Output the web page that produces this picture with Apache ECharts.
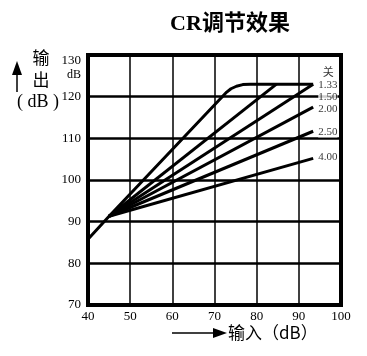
<!DOCTYPE html>
<html><head><meta charset="utf-8">
<script src="https://cdn.jsdelivr.net/npm/echarts@6/dist/echarts.min.js"></script>
<style>html,body{margin:0;padding:0;background:#fff}#c{width:367px;height:356px}</style>
</head><body><div id="c"></div>
<script>
// ---- data (input dB -> output dB) ----
const xTicks = [40, 50, 60, 70, 80, 90, 100];
const yTicks = [70, 80, 90, 100, 110, 120, 130];
const offIn   = [40, 45, 72.9, 73.9, 75.2, 76.7, 78.5, 93.4];
const offOut  = [85.8, 91.3, 121.1, 121.9, 122.5, 122.9, 123, 123];
const cr133In = [45, 84.7];   const cr133Out = [91.3, 123];
const cr150In = [45, 93.4];   const cr150Out = [91.3, 123];
const cr200In = [45, 93.4];   const cr200Out = [91.3, 117.5];
const cr250In = [45, 93.4];   const cr250Out = [91.3, 111.7];
const cr400In = [45, 93.4];   const cr400Out = [91.3, 105.2];
const curveLabels = ['关', '1.33', '1.50', '2.00', '2.50', '4.00'];
const labelIn  = [95.7, 94.6, 94.6, 94.6, 94.6, 94.6];
const labelOut = [125.7, 122.8, 119.8, 116.9, 111.4, 105.4];
const title = 'CR调节效果';
const yName = ['输', '出', '( dB )'];
const xName = '输入（dB）';

const serif = '"Liberation Serif","Noto Sans CJK SC",serif';
const zip = (a, b) => a.map((v, i) => [v, b[i]]);
const lineSeries = (ins, outs) => ({
  type: 'line', data: zip(ins, outs), showSymbol: false, symbol: 'none',
  lineStyle: { color: '#000', width: 3 }, silent: true, z: 3
});

const chart = echarts.init(document.getElementById('c'));
chart.setOption({
  backgroundColor: '#fff',
  animation: false,
  title: {
    text: title, left: 225, top: 8, textAlign: 'center',
    textStyle: { fontFamily: serif, fontWeight: 'bold', fontSize: 22, color: '#000' }
  },
  grid: { left: 88, right: 26, top: 55, bottom: 51, show: true,
          borderColor: '#000', borderWidth: 4, backgroundColor: 'transparent' },
  xAxis: {
    type: 'value', min: xTicks[0], max: xTicks[xTicks.length - 1], interval: 10,
    axisLine: { show: false }, axisTick: { show: false },
    splitLine: { show: true, lineStyle: { color: '#000', width: 1.5 } },
    axisLabel: { color: '#000', fontFamily: serif, fontSize: 13, margin: 5 }
  },
  yAxis: {
    type: 'value', min: yTicks[0], max: yTicks[yTicks.length - 1], interval: 10,
    axisLine: { show: false }, axisTick: { show: false },
    splitLine: { show: true, lineStyle: { color: '#000', width: 2.5 } },
    axisLabel: {
      color: '#000', fontFamily: serif, fontSize: 13, margin: 7,
      formatter: v => v === yTicks[yTicks.length - 1] ? '{s| }\n{t|' + v + '}\n{u|dB}' : String(v),
      rich: {
        s: { lineHeight: 26, fontSize: 13 },
        t: { lineHeight: 14, fontSize: 13, fontFamily: serif, color: '#000' },
        u: { lineHeight: 14, fontSize: 12, fontFamily: serif, color: '#000' }
      }
    }
  },
  series: [
    lineSeries(offIn, offOut),
    lineSeries(cr133In, cr133Out),
    lineSeries(cr150In, cr150Out),
    lineSeries(cr200In, cr200Out),
    lineSeries(cr250In, cr250Out),
    lineSeries(cr400In, cr400Out),
    {
      type: 'scatter', symbolSize: 0, silent: true, z: 5,
      data: curveLabels.map((t, i) => ({ value: [labelIn[i], labelOut[i]], name: t })),
      label: { show: true, position: 'right', distance: 0, formatter: p => p.name,
               color: '#000', fontFamily: serif, fontSize: 11,
               backgroundColor: '#fff', padding: [0, 0, -1, 0] }
    }
  ],
  graphic: [
    { type: 'polygon', shape: { points: [[17, 61], [12, 75], [22, 75]] }, style: { fill: '#000' } },
    { type: 'line', shape: { x1: 17, y1: 74, x2: 17, y2: 92 }, style: { stroke: '#000', lineWidth: 1.5 } },
    { type: 'text', x: 41, y: 58, style: { text: yName[0], font: '17px "Noto Sans CJK SC"', fill: '#000', align: 'center', verticalAlign: 'middle' } },
    { type: 'text', x: 41, y: 80, style: { text: yName[1], font: '17px "Noto Sans CJK SC"', fill: '#000', align: 'center', verticalAlign: 'middle' } },
    { type: 'text', x: 38, y: 102, style: { text: yName[2], font: '18px "Liberation Serif"', fill: '#000', align: 'center', verticalAlign: 'middle' } },
    { type: 'line', shape: { x1: 172, y1: 333, x2: 217, y2: 333 }, style: { stroke: '#000', lineWidth: 1.5 } },
    { type: 'polygon', shape: { points: [[227, 333], [213, 328], [213, 338]] }, style: { fill: '#000' } },
    { type: 'text', x: 228, y: 333, style: { text: xName, font: '17px "Noto Sans CJK SC"', fill: '#000', align: 'left', verticalAlign: 'middle' } }
  ]
});
</script></body></html>
